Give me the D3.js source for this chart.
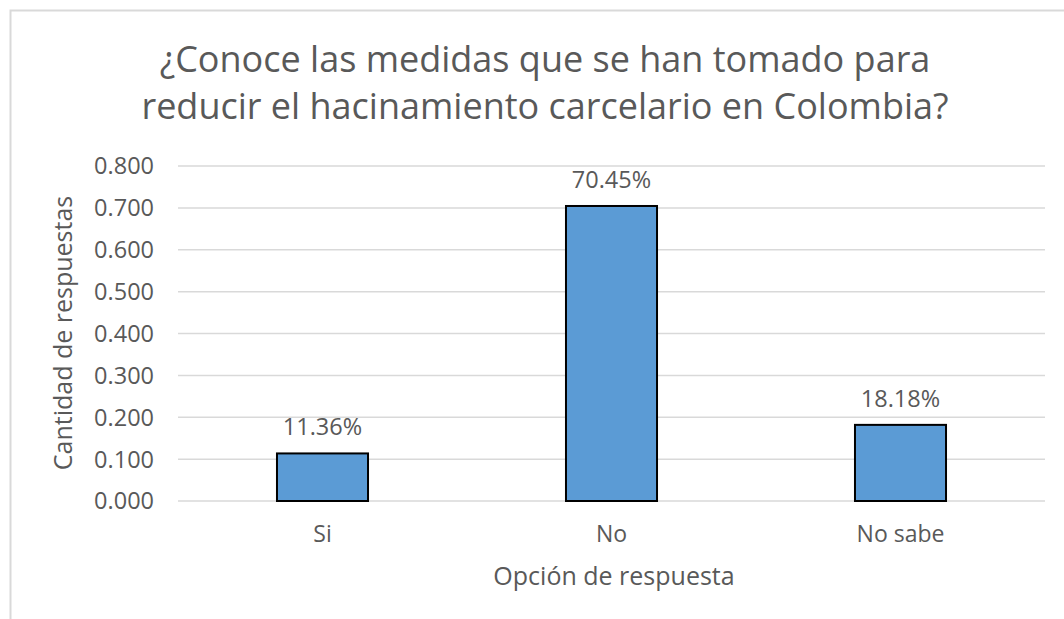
<!DOCTYPE html>
<html>
<head>
<meta charset="utf-8">
<script src="https://cdn.jsdelivr.net/npm/d3@7"></script>
<style>
    body { margin: 0; background: #fff; }
    text { font-family: "Open Sans", sans-serif; fill: #595959; }
</style>
</head>
<body>
<script>
const categories = ["Si", "No", "No sabe"];
const values = [0.1136, 0.7045, 0.1818];
const valueLabels = ["11.36%", "70.45%", "18.18%"];
const yTicks = [0, 0.1, 0.2, 0.3, 0.4, 0.5, 0.6, 0.7, 0.8];
const titleLines = ["¿Conoce las medidas que se han tomado para",
    "reducir el hacinamiento carcelario en Colombia?"];

run();

function run() {
    let width = 1064;
    let height = 619;
    let margin = { left: 178, right: 19, top: 166, bottom: 118 };

    let svg = d3.select("body")
        .append("svg")
        .attr("width", width)
        .attr("height", height);

    // chart frame, cut off at right and bottom like the screenshot
    svg.append("rect")
        .attr("x", 10.5)
        .attr("y", 10.5)
        .attr("width", 1080)
        .attr("height", 640)
        .attr("fill", "none")
        .attr("stroke", "#d9d9d9")
        .attr("stroke-width", 2);

    let x = d3.scaleBand()
        .domain(categories)
        .range([margin.left, width - margin.right])
        .paddingInner(0.685)
        .paddingOuter(0.3425);

    let y = d3.scaleLinear()
        .domain([0, 0.8])
        .range([height - margin.bottom, margin.top]);

    // grid lines
    svg.append("g")
        .selectAll("line")
        .data(yTicks)
        .join("line")
        .attr("x1", margin.left)
        .attr("x2", width - margin.right)
        .attr("y1", d => y(d))
        .attr("y2", d => y(d))
        .attr("stroke", "#d9d9d9")
        .attr("stroke-width", 1.5);

    // y tick labels
    svg.append("g")
        .selectAll("text")
        .data(yTicks)
        .join("text")
        .attr("x", 154)
        .attr("y", d => y(d))
        .attr("dy", "0.36em")
        .attr("text-anchor", "end")
        .attr("font-size", 23.5)
        .text(d => d3.format(".3f")(d));

    // bars
    svg.append("g")
        .selectAll("rect")
        .data(values)
        .join("rect")
        .attr("x", (d, i) => x(categories[i]))
        .attr("y", d => y(d))
        .attr("width", x.bandwidth())
        .attr("height", d => y(0) - y(d))
        .attr("fill", "#5b9bd5")
        .attr("stroke", "#000")
        .attr("stroke-width", 2);

    // value labels
    svg.append("g")
        .selectAll("text")
        .data(values)
        .join("text")
        .attr("x", (d, i) => x(categories[i]) + x.bandwidth() / 2)
        .attr("y", d => y(d) - 18)
        .attr("text-anchor", "middle")
        .attr("font-size", 23.5)
        .text((d, i) => valueLabels[i]);

    // category labels
    svg.append("g")
        .selectAll("text")
        .data(categories)
        .join("text")
        .attr("x", d => x(d) + x.bandwidth() / 2)
        .attr("y", 542)
        .attr("text-anchor", "middle")
        .attr("font-size", 23)
        .text(d => d);

    // axis titles
    svg.append("text")
        .attr("x", 614)
        .attr("y", 585)
        .attr("text-anchor", "middle")
        .attr("font-size", 25)
        .text("Opción de respuesta");

    svg.append("text")
        .attr("transform", "translate(72,333) rotate(-90)")
        .attr("text-anchor", "middle")
        .attr("font-size", 25)
        .text("Cantidad de respuestas");

    // title
    svg.append("g")
        .selectAll("text")
        .data(titleLines)
        .join("text")
        .attr("x", 545)
        .attr("y", (d, i) => 72 + i * 47)
        .attr("text-anchor", "middle")
        .attr("font-size", 36)
        .text(d => d);
}
</script>
</body>
</html>
